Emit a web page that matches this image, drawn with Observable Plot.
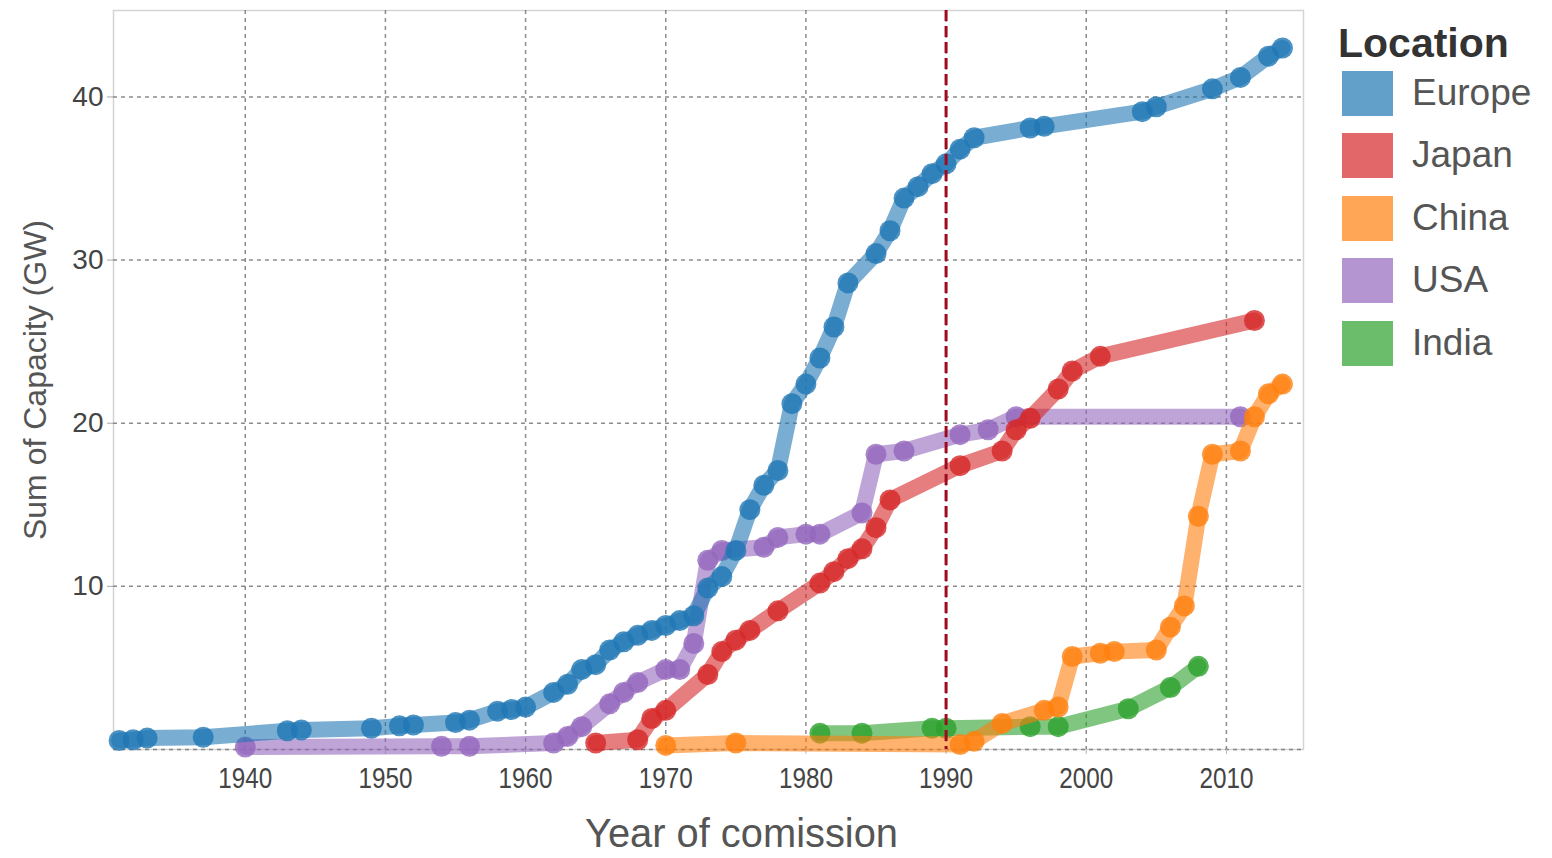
<!DOCTYPE html>
<html>
<head>
<meta charset="utf-8">
<script src="https://cdn.jsdelivr.net/npm/d3@7"></script>
<script src="https://cdn.jsdelivr.net/npm/@observablehq/plot@0.6"></script>
<style>
  body { margin: 0; background: #fff; }
  #wrap { position: relative; width: 1552px; height: 858px; overflow: hidden; }
  #legend { position: absolute; left: 0; top: 0; font-family: "Liberation Sans", Arial, sans-serif; }
  .lg-title { position: absolute; left: 1338px; top: 20px; height: 46px; line-height: 46px; font-size: 41px; font-weight: bold; color: #333; white-space: nowrap; }
  .lg-row { position: absolute; left: 1342px; height: 46px; display: flex; align-items: center; white-space: nowrap; }
  .lg-sw { width: 51px; height: 45px; margin-right: 19px; }
  .lg-lab { font-size: 37px; color: #555; }
</style>
</head>
<body>
<div id="wrap">
  <div id="chart"></div>
  <div id="legend"></div>
</div>
<script>
// ---- data ----
const locations = ["Europe", "Japan", "China", "USA", "India"];
const locationColors = ["#1f77b4", "#d62728", "#ff7f0e", "#9467bd", "#2ca02c"];
const drawOrder = ["India", "USA", "China", "Japan", "Europe"];

const europeYears  = [1931, 1932, 1933, 1937, 1943, 1944, 1949, 1951, 1952, 1955, 1956, 1958, 1959, 1960, 1962, 1963, 1964, 1965, 1966, 1967, 1968, 1969, 1970, 1971, 1972, 1973, 1974, 1975, 1976, 1977, 1978, 1979, 1980, 1981, 1982, 1983, 1985, 1986, 1987, 1988, 1989, 1990, 1991, 1992, 1996, 1997, 2004, 2005, 2009, 2011, 2013, 2014];
const europeValues = [0.55, 0.6, 0.7, 0.75, 1.15, 1.2, 1.3, 1.45, 1.5, 1.65, 1.8, 2.35, 2.45, 2.6, 3.5, 4.0, 4.9, 5.2, 6.1, 6.6, 7.0, 7.3, 7.6, 7.9, 8.2, 9.9, 10.6, 12.2, 14.7, 16.2, 17.1, 21.2, 22.4, 24.0, 25.9, 28.6, 30.4, 31.8, 33.8, 34.5, 35.3, 35.9, 36.8, 37.5, 38.1, 38.2, 39.1, 39.4, 40.5, 41.2, 42.5, 43.0];

const japanYears  = [1965, 1968, 1969, 1970, 1973, 1974, 1975, 1976, 1978, 1981, 1982, 1983, 1984, 1985, 1986, 1991, 1994, 1995, 1996, 1998, 1999, 2001, 2012];
const japanValues = [0.4, 0.6, 1.9, 2.4, 4.6, 6.0, 6.7, 7.3, 8.5, 10.2, 10.9, 11.7, 12.3, 13.6, 15.3, 17.4, 18.3, 19.6, 20.3, 22.1, 23.2, 24.1, 26.3];

const chinaYears  = [1970, 1975, 1991, 1992, 1994, 1997, 1998, 1999, 2001, 2002, 2005, 2006, 2007, 2008, 2009, 2011, 2012, 2013, 2014];
const chinaValues = [0.25, 0.4, 0.3, 0.5, 1.6, 2.4, 2.6, 5.7, 5.9, 6.0, 6.1, 7.5, 8.8, 14.3, 18.1, 18.3, 20.4, 21.8, 22.4];

const usaYears  = [1940, 1954, 1956, 1962, 1963, 1964, 1966, 1967, 1968, 1970, 1971, 1972, 1973, 1974, 1977, 1978, 1980, 1981, 1984, 1985, 1987, 1991, 1993, 1995, 2011];
const usaValues = [0.15, 0.2, 0.2, 0.4, 0.8, 1.4, 2.8, 3.5, 4.1, 4.9, 4.9, 6.5, 11.6, 12.2, 12.4, 13.0, 13.2, 13.2, 14.5, 18.1, 18.3, 19.3, 19.6, 20.4, 20.4];

const indiaYears  = [1981, 1984, 1989, 1990, 1996, 1998, 2003, 2006, 2008];
const indiaValues = [1.0, 1.0, 1.3, 1.3, 1.4, 1.4, 2.5, 3.8, 5.1];

const xTicks = [1940, 1950, 1960, 1970, 1980, 1990, 2000, 2010];
const yTicks = [10, 20, 30, 40];
const markerYear = 1990;
const xTitle = "Year of comission";
const yTitle = "Sum of Capacity (GW)";

// ---- build table ----
const seriesYears = {Europe: europeYears, Japan: japanYears, China: chinaYears, USA: usaYears, India: indiaYears};
const seriesValues = {Europe: europeValues, Japan: japanValues, China: chinaValues, USA: usaValues, India: indiaValues};
const rows = locations.flatMap(loc => seriesYears[loc].map((yr, i) => ({loc, year: yr, value: seriesValues[loc][i]})));

const seriesMarks = drawOrder.flatMap(loc => {
  const d = rows.filter(r => r.loc === loc);
  return [
    Plot.line(d, {x: "year", y: "value", stroke: "loc", strokeWidth: 16, strokeOpacity: 0.6, strokeLinecap: "round", strokeLinejoin: "round"}),
    Plot.dot(d, {x: "year", y: "value", fill: "loc", r: 10.5, fillOpacity: 0.8, stroke: "none"})
  ];
});

const chart = Plot.plot({
  width: 1552,
  height: 858,
  marginLeft: 113,
  marginRight: 249,
  marginTop: 10,
  marginBottom: 109,
  style: {fontFamily: "'Liberation Sans', Arial, sans-serif", background: "#fff"},
  x: {domain: [1930.6, 2015.5]},
  y: {domain: [0, 45.3]},
  color: {domain: locations, range: locationColors},
  marks: [
    Plot.frame({stroke: "#d4d4d4", strokeWidth: 1.5}),
    Plot.gridX(xTicks, {stroke: "#777", strokeOpacity: 0.85, strokeWidth: 1.5, strokeDasharray: "4,4"}),
    Plot.gridY([0, ...yTicks], {stroke: "#777", strokeOpacity: 0.85, strokeWidth: 1.5, strokeDasharray: "4,4"}),
    Plot.axisY(yTicks, {tickSize: 6, tickPadding: 4, fontSize: 28, stroke: "#aaa", fill: "#444", label: null}),
    Plot.axisX(xTicks, {tickSize: 5, tickPadding: 12, fontSize: 30, stroke: "#bbb", fill: "#444", label: null, tickFormat: d => String(d)}),
    Plot.text([yTitle], {frameAnchor: "left", textAnchor: "middle", rotate: -90, dx: -78, fontSize: 32, fill: "#555", lineAnchor: "middle"}),
    Plot.text([xTitle], {frameAnchor: "bottom", textAnchor: "middle", dx: 33, dy: 85, fontSize: 40, fill: "#555", lineAnchor: "middle"}),
    ...seriesMarks,
    Plot.ruleX([markerYear], {stroke: "#9e0a1e", strokeWidth: 3, strokeDasharray: "11,5"})
  ]
});
document.getElementById("chart").appendChild(chart);

// condensed look of the x-axis texts (as in the reference)
const xTickStrings = xTicks.map(String);
d3.select(chart).selectAll("text").each(function() {
  const t = this.textContent;
  if (xTickStrings.includes(t)) {
    d3.select(this).attr("textLength", 54).attr("lengthAdjust", "spacingAndGlyphs");
  } else if (t === xTitle) {
    d3.select(this).attr("textLength", 313).attr("lengthAdjust", "spacingAndGlyphs");
  }
});

// ---- legend ----
const legend = document.getElementById("legend");
const title = document.createElement("div");
title.className = "lg-title";
title.textContent = "Location";
legend.appendChild(title);
const rowCenters = [93, 155, 218, 280, 343];
locations.forEach((loc, i) => {
  const row = document.createElement("div");
  row.className = "lg-row";
  row.style.top = (rowCenters[i] - 23) + "px";
  const sw = document.createElement("div");
  sw.className = "lg-sw";
  sw.style.background = locationColors[i];
  sw.style.opacity = 0.7;
  const lab = document.createElement("span");
  lab.className = "lg-lab";
  lab.textContent = loc;
  row.appendChild(sw);
  row.appendChild(lab);
  legend.appendChild(row);
});
</script>
</body>
</html>
